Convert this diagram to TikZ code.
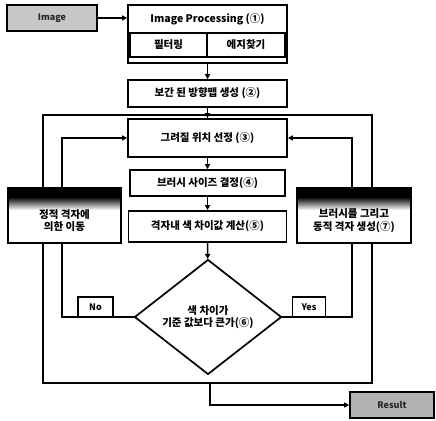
\documentclass[tikz,border=0pt]{standalone}
\usepackage{fontspec}
\setmainfont{Noto Sans CJK KR}
\usetikzlibrary{arrows.meta,shapes.geometric}
\begin{document}
\begin{tikzpicture}[x=1pt,y=-1pt,
  txt/.style={font=\bfseries\fontsize{10.5}{12.5}\selectfont},
  box/.style={draw,line width=1.7pt,fill=white,inner sep=0pt,txt},
  graybox/.style={box,fill=black!22,font=\bfseries\fontsize{9}{11}\selectfont,text=black!85},
  tag/.style={draw,line width=1.4pt,fill=white,inner sep=0pt,font=\bfseries\fontsize{9}{11}\selectfont},
  darktop/.style={box,path picture={
      \fill[black] (path picture bounding box.north west) rectangle ([yshift=-9pt]path picture bounding box.north east);
      \shade[top color=black,bottom color=white] ([yshift=-9pt]path picture bounding box.north west) rectangle ([yshift=-22pt]path picture bounding box.north east);}},
  conn/.style={line width=1.6pt},
  arr/.style={conn,-{Triangle[length=5pt,width=5pt]}}]
\useasboundingbox (0,0) rectangle (436,420);

% loop frame
\coordinate (loopnw) at (43,115);
\coordinate (loopse) at (372,383);
\coordinate (loopout) at (210,383);
\draw[conn] (loopnw) rectangle (loopse);

\node[graybox,minimum width=90pt,minimum height=26pt] (img) at (52,18) {Image};
\node[box,minimum width=159pt,minimum height=58pt] (ip) at (207.5,34) {};
\node[txt] (iptitle) at (207.5,19) {Image Processing (①)};
\node[box,line width=1.3pt,minimum width=77pt,minimum height=24pt] (filt) at (168.5,45) {필터링};
\node[box,line width=1.3pt,minimum width=78pt,minimum height=24pt] (edge) at (246,45) {에지찾기};
\node[box,minimum width=159pt,minimum height=27pt] (interp) at (207.5,93.5) {보간 된 방향맵 생성 (②)};
\node[box,minimum width=159pt,minimum height=38pt] (sel) at (207.5,138) {그려질 위치 선정 (③)};
\node[box,minimum width=155pt,minimum height=26pt] (brush) at (207.5,183) {브러시 사이즈 결정(④)};
\node[box,minimum width=158pt,minimum height=31pt] (calc) at (207.5,226.5) {격자내 색 차이값 계산(⑤)};
\node[darktop,minimum width=113pt,minimum height=55pt,
  label={[txt,align=center,yshift=-5pt]center:정적 격자에\\의한 이동}] (left) at (64.5,215.5) {};
\node[darktop,minimum width=114pt,minimum height=55pt,
  label={[txt,align=center,yshift=-5pt]center:브러시를 그리고\\동적 격자 생성(⑦)}] (right) at (354,215.5) {};
\node[box,diamond,minimum width=147pt,minimum height=111pt,align=center] (dia) at (208,317) {색 차이가\\기준 값보다 큰가(⑥)};
\node[tag,minimum width=35pt,minimum height=20pt] (no) at (95.5,307) {No};
\node[tag,minimum width=33pt,minimum height=20pt] (yes) at (309,307) {Yes};
\node[graybox,fill=black!30,minimum width=84pt,minimum height=26pt] (res) at (392,405) {Result};

\draw[arr] (img.east) -- (img.east -| ip.west);
\draw[arr] (ip) -- (interp);
\draw[arr] (interp) -- (sel);
\draw[arr] (sel) -- (brush);
\draw[arr] (brush) -- (calc);
\draw[arr] (calc) -- (dia);
\draw[conn] (dia.west) -| ([xshift=-2.5pt]left.south);
\draw[arr] ([xshift=-2.5pt]left.north) |- (sel.west);
\draw[conn] (dia.east) -| ([xshift=-2pt]right.south);
\draw[arr] ([xshift=-2pt]right.north) |- (sel.east);
\draw[arr] (loopout) |- (res.west);
\end{tikzpicture}
\end{document}
